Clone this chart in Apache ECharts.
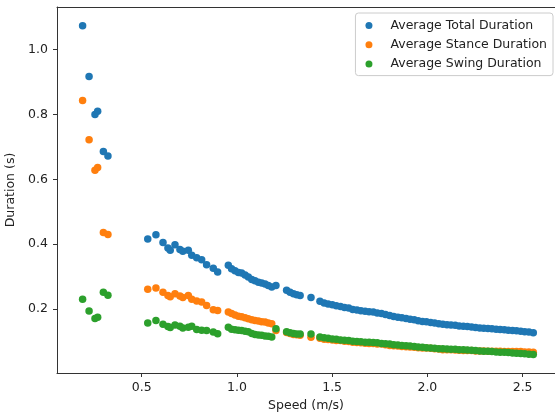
<!DOCTYPE html>
<html>
<head>
<meta charset="utf-8">
<script src="https://cdn.jsdelivr.net/npm/echarts@6/dist/echarts.min.js"></script>
<style>html,body{margin:0;padding:0;background:#fff;}#chart{width:555px;height:416px;}</style>
</head>
<body>
<div id="chart"></div>
<script>
// Speed (m/s)
var speed = [
  0.190, 0.224, 0.255, 0.269, 0.299, 0.323,
  0.532, 0.575, 0.612, 0.638, 0.650, 0.675, 0.701, 0.716, 0.745, 0.763, 0.789, 0.815, 0.841, 0.876, 0.899,
  0.955, 0.972, 0.990, 1.008, 1.025, 1.043, 1.060, 1.078, 1.095, 1.113, 1.130, 1.148, 1.165, 1.183, 1.205,
  1.261, 1.279, 1.297, 1.314, 1.332, 1.389,
  1.436, 1.458, 1.479, 1.501, 1.522, 1.544, 1.565, 1.587, 1.608, 1.630, 1.651, 1.673, 1.694, 1.716, 1.737,
  1.759, 1.780, 1.802, 1.823, 1.845, 1.866, 1.888, 1.909, 1.931, 1.952, 1.974, 1.995, 2.017, 2.038, 2.060,
  2.081, 2.103, 2.124, 2.146, 2.167, 2.189, 2.210, 2.232, 2.253, 2.275, 2.296, 2.318, 2.339, 2.361, 2.382,
  2.404, 2.425, 2.447, 2.468, 2.490, 2.511, 2.533, 2.556
];
// Average Total Duration (s)
var totalDur = [
  1.073, 0.917, 0.800, 0.810, 0.686, 0.672,
  0.416, 0.429, 0.405, 0.388, 0.381, 0.398, 0.384, 0.378, 0.381, 0.366, 0.358, 0.352, 0.337, 0.326, 0.314,
  0.335, 0.324, 0.318, 0.313, 0.311, 0.305, 0.299, 0.291, 0.287, 0.283, 0.280, 0.277, 0.273, 0.268, 0.273,
  0.258, 0.252, 0.247, 0.244, 0.242, 0.236,
  0.224, 0.219, 0.216, 0.213, 0.210, 0.208, 0.205, 0.203, 0.199, 0.197, 0.195, 0.193, 0.192, 0.191, 0.188,
  0.186, 0.183, 0.180, 0.177, 0.175, 0.173, 0.171, 0.169, 0.167, 0.164, 0.162, 0.161, 0.159, 0.157, 0.155,
  0.153, 0.152, 0.151, 0.150, 0.148, 0.147, 0.146, 0.145, 0.143, 0.142, 0.141, 0.140, 0.139, 0.138, 0.137,
  0.136, 0.135, 0.134, 0.133, 0.132, 0.130, 0.129, 0.127
];
// Average Stance Duration (s)
var stanceDur = [
  0.843, 0.722, 0.628, 0.636, 0.436, 0.430,
  0.261, 0.265, 0.252, 0.242, 0.238, 0.247, 0.240, 0.236, 0.242, 0.230, 0.225, 0.222, 0.211, 0.198, 0.196,
  0.191, 0.186, 0.182, 0.178, 0.176, 0.173, 0.170, 0.167, 0.165, 0.163, 0.161, 0.160, 0.157, 0.155, 0.134,
  0.128, 0.125, 0.122, 0.121, 0.119, 0.113,
  0.110, 0.107, 0.106, 0.105, 0.103, 0.103, 0.101, 0.100, 0.098, 0.097, 0.096, 0.095, 0.094, 0.094, 0.092,
  0.092, 0.090, 0.088, 0.087, 0.086, 0.085, 0.084, 0.083, 0.082, 0.081, 0.080, 0.080, 0.079, 0.078, 0.077,
  0.075, 0.075, 0.075, 0.074, 0.073, 0.072, 0.072, 0.072, 0.071, 0.071, 0.071, 0.070, 0.070, 0.070, 0.070,
  0.069, 0.069, 0.069, 0.069, 0.069, 0.068, 0.068, 0.067
];
// Average Swing Duration (s)
var swingDur = [
  0.230, 0.194, 0.171, 0.175, 0.252, 0.243,
  0.157, 0.165, 0.153, 0.146, 0.143, 0.151, 0.147, 0.142, 0.144, 0.147, 0.137, 0.135, 0.134, 0.129, 0.124,
  0.144, 0.138, 0.136, 0.135, 0.134, 0.132, 0.130, 0.125, 0.122, 0.120, 0.119, 0.117, 0.116, 0.114, 0.139,
  0.130, 0.127, 0.125, 0.123, 0.123, 0.123,
  0.114, 0.112, 0.110, 0.108, 0.107, 0.105, 0.104, 0.103, 0.101, 0.100, 0.099, 0.098, 0.098, 0.097, 0.096,
  0.094, 0.093, 0.092, 0.090, 0.089, 0.088, 0.087, 0.086, 0.085, 0.083, 0.082, 0.081, 0.080, 0.079, 0.078,
  0.078, 0.077, 0.076, 0.076, 0.075, 0.075, 0.074, 0.073, 0.072, 0.071, 0.070, 0.070, 0.069, 0.068, 0.067,
  0.067, 0.066, 0.065, 0.064, 0.063, 0.062, 0.061, 0.060
];
var seriesNames = ['Average Total Duration', 'Average Stance Duration', 'Average Swing Duration'];
var seriesColors = ['#1f77b4', '#ff7f0e', '#2ca02c'];
var xTicks = [0.5, 1.0, 1.5, 2.0, 2.5];
var yTicks = [0.2, 0.4, 0.6, 0.8, 1.0];

function pairs(ys) {
  return speed.map(function (x, i) { return [x, ys[i]]; });
}
var allY = [totalDur, stanceDur, swingDur];

var font = 'DejaVu Sans';
var fs = 12.5;
var textColor = '#222';
var spine = '#333';
var xMin = 0.0556, xMax = 2.670, yMin = 0.003, yMax = 1.131;
var chart = echarts.init(document.getElementById('chart'), null, { renderer: 'canvas' });
chart.setOption({
  animation: false,
  backgroundColor: '#fff',
  textStyle: { fontFamily: font },
  grid: { left: 57, top: 7, right: 0, bottom: 43, show: false, containLabel: false, outerBoundsMode: 'none' },
  legend: {
    orient: 'vertical',
    right: 2, top: 13,
    data: seriesNames,
    icon: 'circle',
    itemWidth: 33, itemHeight: 7,
    itemGap: 6.3,
    padding: [6, 6, 5, 10],
    borderColor: '#ccc', borderWidth: 1, borderRadius: 3,
    backgroundColor: 'rgba(255,255,255,0.8)',
    textStyle: { fontFamily: font, fontSize: fs, color: textColor, lineHeight: 12 }
  },
  xAxis: [{
    type: 'value',
    min: xMin, max: xMax,
    name: 'Speed (m/s)',
    nameLocation: 'middle',
    nameGap: 25,
    nameTextStyle: { fontFamily: font, fontSize: fs, color: textColor },
    axisLine: { show: true, onZero: false, lineStyle: { color: spine, width: 1 } },
    axisTick: { show: true, inside: false, length: 4, lineStyle: { color: spine }, customValues: xTicks },
    axisLabel: {
      customValues: xTicks, margin: 8,
      fontFamily: font, fontSize: fs, color: textColor,
      formatter: function (v) { return v.toFixed(1); }
    },
    splitLine: { show: false }
  }, {
    type: 'value',
    position: 'top',
    min: xMin, max: xMax,
    axisLine: { show: true, onZero: false, lineStyle: { color: spine, width: 1 } },
    axisTick: { show: false },
    axisLabel: { show: false },
    splitLine: { show: false }
  }],
  yAxis: {
    type: 'value',
    min: yMin, max: yMax,
    name: 'Duration (s)',
    nameLocation: 'middle',
    nameGap: 34,
    nameRotate: 90,
    nameTextStyle: { fontFamily: font, fontSize: fs, color: textColor },
    axisLine: { show: true, onZero: false, lineStyle: { color: spine, width: 1 } },
    axisTick: { show: true, inside: false, length: 4, lineStyle: { color: spine }, customValues: yTicks },
    axisLabel: {
      customValues: yTicks, margin: 9,
      fontFamily: font, fontSize: fs, color: textColor,
      formatter: function (v) { return v.toFixed(1); }
    },
    splitLine: { show: false }
  },
  series: seriesNames.map(function (name, k) {
    return {
      name: name,
      type: 'scatter',
      xAxisIndex: 0,
      symbol: 'circle',
      symbolSize: 7.5,
      itemStyle: { color: seriesColors[k], opacity: 1 },
      emphasis: { disabled: true },
      data: pairs(allY[k])
    };
  })
});
</script>
</body>
</html>
